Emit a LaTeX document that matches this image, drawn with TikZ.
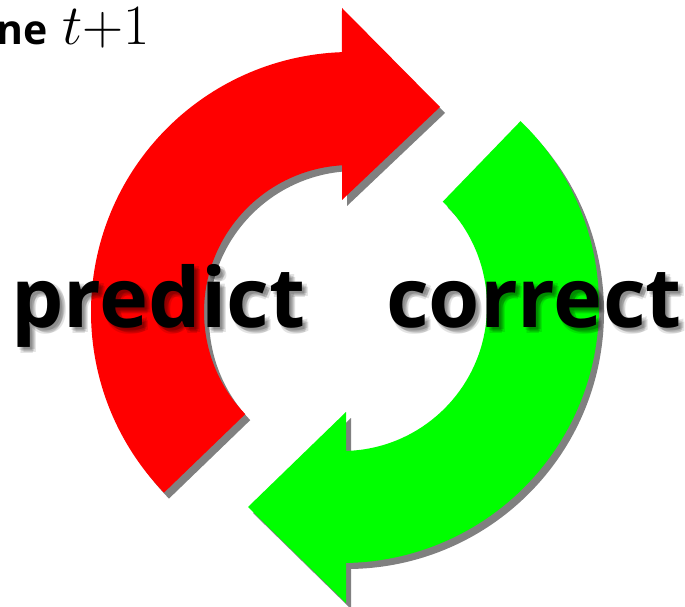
\RequirePackage{fix-cm}
\documentclass[tikz,border=0pt]{standalone}
\usepackage{fontspec}
\setsansfont{Open Sans}
\usepackage{xcolor}
\usepackage{tikz}

% the two halves of the cycle
\newcommand{\predictpath}{([shift={(224:260)}]351,294) arc[start angle=224,end angle=92,radius=260]
  -- (342,598) -- (440,499) -- (342,406)
  -- ([shift={(93.5:147)}]351,294) arc[start angle=93.5,end angle=224,radius=147] -- cycle}
\newcommand{\correctpath}{([shift={(46:257)}]342,300) arc[start angle=46,end angle=-89.1,radius=257]
  -- (346,3) -- (248,99) -- (346,194)
  -- ([shift={(-88.4:145)}]342,300) arc[start angle=-88.4,end angle=46,radius=145] -- cycle}

\tikzset{
  word/.style={inner sep=0pt,anchor=base west,font=\sffamily\bfseries\fontsize{83}{90}\selectfont},
  wordshadow/.style={word,text=black,opacity=0.11},
}

\begin{document}
\begin{tikzpicture}[x=1pt,y=1pt]
\useasboundingbox (0,0) rectangle (685,606);
\clip (0,0) rectangle (685,606);
%
\fill[gray,shift={(5,-6)}] \predictpath;
\fill[red] \predictpath;
%
\fill[gray,shift={(5,-6)}] \correctpath;
\fill[green] \correctpath;
%
\foreach \dx/\dy [count=\k] in {4/-4,2/-3,6/-5,3/-6,5/-2}{
  \node[wordshadow] (pshadow\k) at (11+\dx,279+\dy) {predict};
  \node[wordshadow] (cshadow\k) at (386+\dx,279+\dy) {correct};
}
\node[word] (predict) at (11,279) {predict};
\node[word] (correct) at (386,279) {correct};
%
\node[inner sep=0pt,anchor=base east] (time) at (150,561)
  {\sffamily\bfseries\fontsize{41}{48}\selectfont ne\hspace{15pt}\fontsize{57}{60}\selectfont$t{+}1$};
\end{tikzpicture}
\end{document}
